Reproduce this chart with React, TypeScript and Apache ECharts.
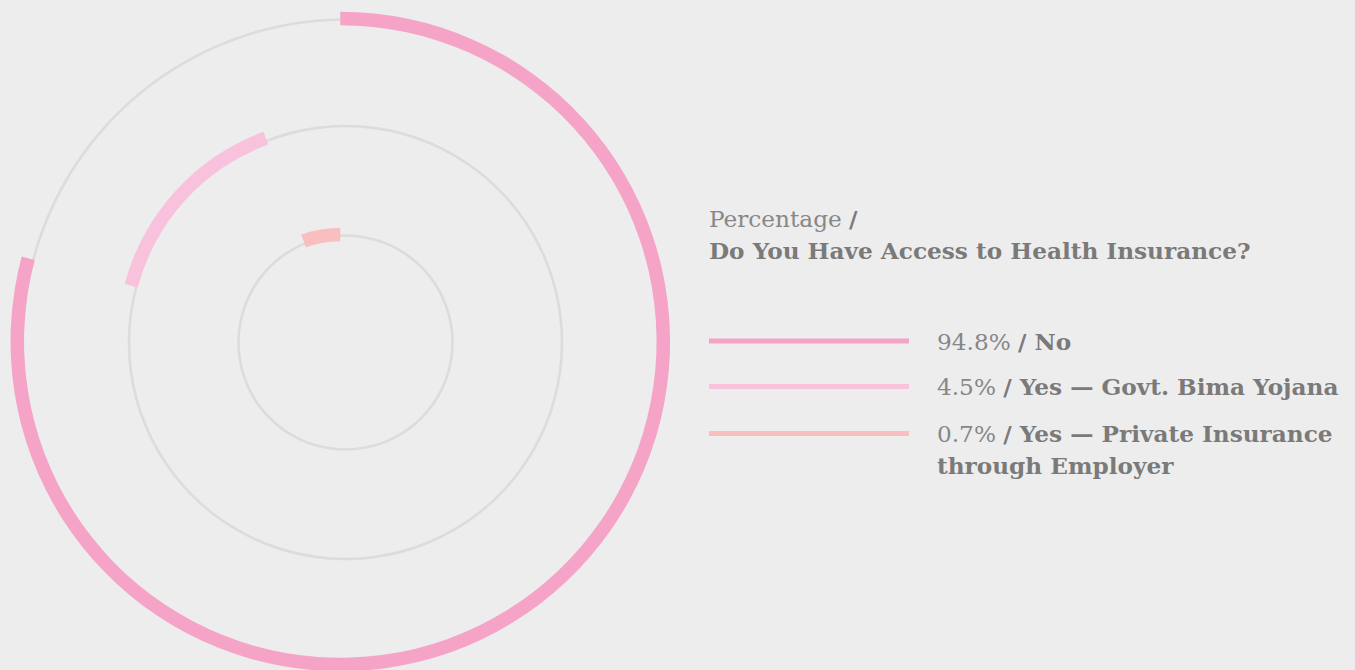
import React, { useEffect, useRef } from 'react';
import * as echarts from 'echarts';

// ---- data ----
const categories = ['No', 'Yes — Govt. Bima Yojana', 'Yes — Private Insurance through Employer'];
const categoryLines = [['No'], ['Yes — Govt. Bima Yojana'], ['Yes — Private Insurance', 'through Employer']];
const values = [94.8, 4.5, 0.7];
const colors = ['#f5a4c8', '#f8c2dc', '#f9bfbe'];
const titleMeasure = 'Percentage';
const titleQuestion = 'Do You Have Access to Health Insurance?';

// ---- layout ----
const BG = '#ededed';
const ARC_CX = 340.3;
const ARC_CY = 341.5;
const GREY_CX = 345.5;
const GREY_CY = 342.5;
const ringRadii = [323, 216.5, 107];
const ARC_W = 13.5;
const GREY_W = 2.6;
const ANGLE_EXP = 0.54;
const FONT = "'DejaVu Serif', 'Liberation Serif', serif";
const FONT_SIZE = 23.2;
const REG_COLOR = '#878787';
const BOLD_COLOR = '#7a7a7a';
const LEGEND_X = 709;
const LEGEND_TEXT_X = 937;
const legendY = [341, 386.5, 433.5];
const LINE_H = 32;

export default function App() {
  const ref = useRef<HTMLDivElement>(null);
  useEffect(() => {
    document.body.style.margin = '0';
    document.body.style.background = BG;
    const chart = echarts.init(ref.current as HTMLDivElement, undefined, { renderer: 'svg' });

    const weights = values.map((v) => Math.pow(v, ANGLE_EXP));
    const total = weights.reduce((a, b) => a + b, 0);
    const fracs = weights.map((w) => w / total);
    const starts = fracs.map((_, i) => fracs.slice(0, i).reduce((a, b) => a + b, 0));

    const greySeries = ringRadii.map((r) => ({
      type: 'pie',
      silent: true,
      center: [GREY_CX, GREY_CY],
      radius: [r - GREY_W / 2, r + GREY_W / 2],
      label: { show: false },
      labelLine: { show: false },
      emphasis: { disabled: true },
      z: 1,
      data: [{ value: 1, itemStyle: { color: '#dcdcdc' } }],
    }));

    const arcSeries = values.map((v, i) => ({
      type: 'pie',
      name: categories[i],
      silent: true,
      center: [ARC_CX, ARC_CY],
      radius: [ringRadii[i] - ARC_W / 2, ringRadii[i] + ARC_W / 2],
      startAngle: 90,
      clockwise: true,
      minAngle: 0,
      stillShowZeroSum: true,
      avoidLabelOverlap: false,
      label: { show: false },
      labelLine: { show: false },
      emphasis: { disabled: true },
      z: 2,
      data: [
        { value: starts[i], name: 'before', itemStyle: { color: 'rgba(0,0,0,0)' } },
        { value: fracs[i], name: categories[i], itemStyle: { color: colors[i] } },
        { value: Math.max(0, 1 - starts[i] - fracs[i]), name: 'after', itemStyle: { color: 'rgba(0,0,0,0)' } },
      ],
    }));

    const rich = {
      a: { fontFamily: FONT, fontSize: FONT_SIZE, fontWeight: 'normal', fill: REG_COLOR, lineHeight: LINE_H },
      b: { fontFamily: FONT, fontSize: FONT_SIZE, fontWeight: 'bold', fill: BOLD_COLOR, lineHeight: LINE_H },
    };

    const legendGraphics: any[] = [];
    values.forEach((v, i) => {
      legendGraphics.push({
        type: 'rect',
        left: LEGEND_X,
        top: legendY[i] - 2.5,
        shape: { width: 200, height: 5 },
        style: { fill: colors[i] },
        silent: true,
      });
      const lines = categoryLines[i];
      const txt = `{a|${v.toFixed(1)}%} {b|/ ${lines[0]}}` + lines.slice(1).map((l) => `\n{b|${l}}`).join('');
      legendGraphics.push({
        type: 'text',
        x: LEGEND_TEXT_X,
        y: legendY[i] - LINE_H / 2,
        silent: true,
        style: { text: txt, rich, verticalAlign: 'top', align: 'left', font: `${FONT_SIZE}px ${FONT}` },
      });
    });

    legendGraphics.push({
      type: 'text',
      x: LEGEND_X,
      y: 218 - LINE_H / 2,
      silent: true,
      style: {
        text: `{a|${titleMeasure}} {b|/}\n{b|${titleQuestion}}`,
        rich,
        verticalAlign: 'top',
        align: 'left',
        font: `${FONT_SIZE}px ${FONT}`,
      },
    });

    chart.setOption({
      animation: false,
      backgroundColor: BG,
      series: [...greySeries, ...arcSeries],
      graphic: legendGraphics,
    });
    return () => chart.dispose();
  }, []);
  return <div ref={ref} style={{ width: 1355, height: 670, background: BG }} />;
}
